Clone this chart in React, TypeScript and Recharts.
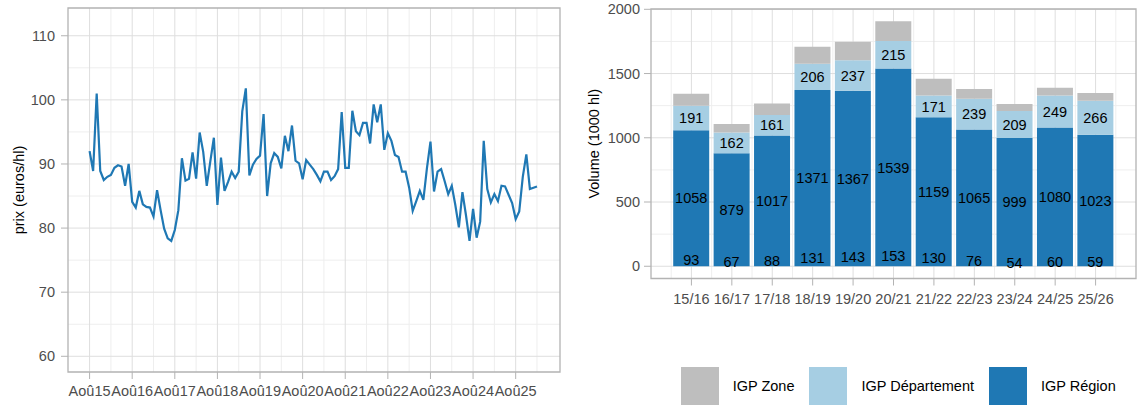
import { LineChart, Line, BarChart, Bar, XAxis, YAxis, CartesianGrid, ReferenceArea, LabelList, Legend } from 'recharts'

// prix mensuel, de août 2015 à février 2026
const prix = [
  92.0, 88.9, 101.0, 88.9, 87.5, 88.0, 88.3, 89.4, 89.8, 89.6,
  86.6, 90.0, 84.1, 83.2, 85.8, 83.7, 83.3, 83.2, 81.8, 85.9,
  82.8, 79.9, 78.4, 78.0, 79.7, 82.8, 90.9, 87.4, 87.7, 91.8,
  87.7, 94.9, 91.9, 86.6, 90.4, 94.1, 83.6, 91.0, 85.8, 87.2,
  88.8, 87.8, 88.8, 98.2, 101.8, 88.2, 89.9, 90.8, 91.3, 97.8,
  85.0, 90.1, 91.7, 91.1, 89.3, 94.4, 92.0, 96.0, 90.5, 90.1,
  87.6, 90.6, 89.9, 89.2, 88.3, 87.3, 88.8, 88.8, 87.5, 88.1,
  89.2, 98.1, 89.4, 89.4, 98.3, 95.1, 94.5, 96.4, 96.4, 93.2,
  99.3, 96.5, 99.3, 92.2, 94.8, 93.6, 91.4, 91.1, 88.8, 88.8,
  86.3, 82.7, 84.2, 85.8, 84.4, 89.3, 93.5, 85.7, 88.8, 89.2,
  87.3, 85.3, 86.6, 83.6, 80.1, 85.6, 82.0, 78.0, 83.0, 78.5,
  81.0, 93.6, 86.1, 84.0, 85.3, 84.2, 86.6, 86.5, 85.2, 83.9,
  81.4, 82.6, 88.0, 91.5, 86.1, 86.3, 86.5,
]
const moisTicks = [0, 12, 24, 36, 48, 60, 72, 84, 96, 108, 120]
const moisLabels = ['Aoû15', 'Aoû16', 'Aoû17', 'Aoû18', 'Aoû19', 'Aoû20', 'Aoû21', 'Aoû22', 'Aoû23', 'Aoû24', 'Aoû25']
const prixTicks = [60, 70, 80, 90, 100, 110]

const campagnes = ['15/16', '16/17', '17/18', '18/19', '19/20', '20/21', '21/22', '22/23', '23/24', '24/25', '25/26']
const igpRegion = [1058, 879, 1017, 1371, 1367, 1539, 1159, 1065, 999, 1080, 1023]
const igpDepartement = [191, 162, 161, 206, 237, 215, 171, 239, 209, 249, 266]
const igpZone = [93, 67, 88, 131, 143, 153, 130, 76, 54, 60, 59]
const volumeTicks = [0, 500, 1000, 1500, 2000]
const legendOrder = ['IGP Zone', 'IGP Département', 'IGP Région']

const prixData = prix.map((p, i) => ({ m: i, prix: p }))
const volumeData = campagnes.map((c, i) => ({
  pos: i + 1,
  campagne: c,
  region: igpRegion[i],
  departement: igpDepartement[i],
  zone: igpZone[i],
}))

const FONT = '"Liberation Sans", Arial, sans-serif'
const tickStyle = { fill: '#4d4d4d', fontSize: 14.5, fontFamily: FONT }
const GRID = '#dedede'
const GRID_MINOR = '#eeeeee'
const BORDER = '#b3b3b3'

// le label de la zone est placé depuis zéro, comme dans l'original
function ZoneLabel(props: any) {
  const vb = props.viewBox ?? props
  const { x, y, width, height } = vb
  const { value, index } = props
  if (!value || !height) return null
  const ppu = height / value
  const base = y + height + (igpRegion[index] + igpDepartement[index]) * ppu
  return (
    <text x={x + width / 2} y={base - (value / 2) * ppu} textAnchor="middle" dominantBaseline="central"
      fontSize={14.5} fontFamily={FONT} fill="#000">
      {value}
    </text>
  )
}

function LegendeIGP({ payload }: any) {
  const items = [...(payload ?? [])].sort(
    (a: any, b: any) => legendOrder.indexOf(a.value) - legendOrder.indexOf(b.value),
  )
  return (
    <div style={{ display: 'flex', alignItems: 'center', fontFamily: FONT, fontSize: 14.5, color: '#000' }}>
      {items.map((it: any) => (
        <div key={it.value} style={{ display: 'flex', alignItems: 'center', marginRight: 15 }}>
          <div style={{ width: 38, height: 38, background: it.color, marginRight: 14 }} />
          <span>{it.value}</span>
        </div>
      ))}
    </div>
  )
}

function PrixChart() {
  return (
    <LineChart width={570} height={405} data={prixData} margin={{ top: 8, right: 10, left: 0, bottom: 0 }}>
      <CartesianGrid stroke={GRID_MINOR} horizontalValues={[65, 75, 85, 95, 105]}
        verticalValues={[6, 18, 30, 42, 54, 66, 78, 90, 102, 114, 126]} />
      <CartesianGrid stroke={GRID} horizontalValues={prixTicks} verticalValues={moisTicks} />
      <XAxis dataKey="m" type="number" domain={[-6.08, 132.48]} allowDataOverflow ticks={moisTicks} interval={0}
        tickFormatter={(v: number) => moisLabels[moisTicks.indexOf(v)]} height={33}
        axisLine={false} tickLine={{ stroke: BORDER }} tickSize={7} tickMargin={7} tick={tickStyle} />
      <YAxis type="number" domain={[57.55, 114.33]} allowDataOverflow ticks={prixTicks} interval={0} width={68}
        axisLine={false} tickLine={{ stroke: BORDER }} tickSize={7} tickMargin={6} tick={tickStyle}
        label={{ value: 'prix (euros/hl)', angle: -90, position: 'insideLeft', offset: 19,
          style: { textAnchor: 'middle', fill: '#000', fontSize: 14.5, fontFamily: FONT } }} />
      <ReferenceArea x1={-6.08} x2={132.48} y1={57.55} y2={114.33} fill="none" stroke={BORDER} strokeWidth={1.3} />
      <Line type="linear" dataKey="prix" stroke="#1f78b4" strokeWidth={2.2} dot={false} isAnimationActive={false} />
    </LineChart>
  )
}

function VolumeChart() {
  return (
    <BarChart width={567} height={405} data={volumeData} margin={{ top: 9, right: 1, left: 0, bottom: 86.5 }}>
      <CartesianGrid stroke={GRID_MINOR} horizontalValues={[250, 750, 1250, 1750]}
        verticalValues={[0.5, 1.5, 2.5, 3.5, 4.5, 5.5, 6.5, 7.5, 8.5, 9.5, 10.5, 11.5]} />
      <CartesianGrid stroke={GRID} horizontalValues={volumeTicks} verticalValues={[1, 2, 3, 4, 5, 6, 7, 8, 9, 10, 11]} />
      <XAxis dataKey="pos" type="number" domain={[0, 12]} allowDataOverflow ticks={[1, 2, 3, 4, 5, 6, 7, 8, 9, 10, 11]}
        interval={0} tickFormatter={(v: number) => campagnes[v - 1]} height={40}
        axisLine={false} tickLine={{ stroke: BORDER }} tickSize={7} tickMargin={8} tick={tickStyle} />
      <YAxis type="number" domain={[-95.35, 2002.35]} allowDataOverflow ticks={volumeTicks} interval={0} width={81}
        axisLine={false} tickLine={{ stroke: BORDER }} tickSize={7} tickMargin={4} tick={tickStyle}
        label={{ value: 'Volume (1000 hl)', angle: -90, position: 'insideLeft', offset: 24,
          style: { textAnchor: 'middle', fill: '#000', fontSize: 14.5, fontFamily: FONT } }} />
      <ReferenceArea x1={0} x2={12} y1={-95.35} y2={2002.35} fill="none" stroke={BORDER} strokeWidth={1.3} />
      <Bar dataKey="region" name="IGP Région" stackId="v" fill="#1f78b4" barSize={36} isAnimationActive={false}>
        <LabelList dataKey="region" position="center" fill="#000" fontSize={14.5} fontFamily={FONT} />
      </Bar>
      <Bar dataKey="departement" name="IGP Département" stackId="v" fill="#a6cee3" barSize={36} isAnimationActive={false}>
        <LabelList dataKey="departement" position="center" fill="#000" fontSize={14.5} fontFamily={FONT} />
      </Bar>
      <Bar dataKey="zone" name="IGP Zone" stackId="v" fill="#bebebe" barSize={36} isAnimationActive={false}>
        <LabelList dataKey="zone" content={<ZoneLabel />} />
      </Bar>
      <Legend layout="horizontal" align="center" verticalAlign="middle" content={<LegendeIGP />}
        wrapperStyle={{ position: 'absolute', left: 110.7, top: 367, width: 450, height: 38 }} />
    </BarChart>
  )
}

export default function App() {
  return (
    <div style={{ position: 'absolute', left: 0, top: 0, width: 1137, height: 405, background: '#fff', fontFamily: FONT }}>
      <div style={{ position: 'absolute', left: 0, top: 0 }}>
        <PrixChart />
      </div>
      <div style={{ position: 'absolute', left: 570, top: 0 }}>
        <VolumeChart />
      </div>
    </div>
  )
}
